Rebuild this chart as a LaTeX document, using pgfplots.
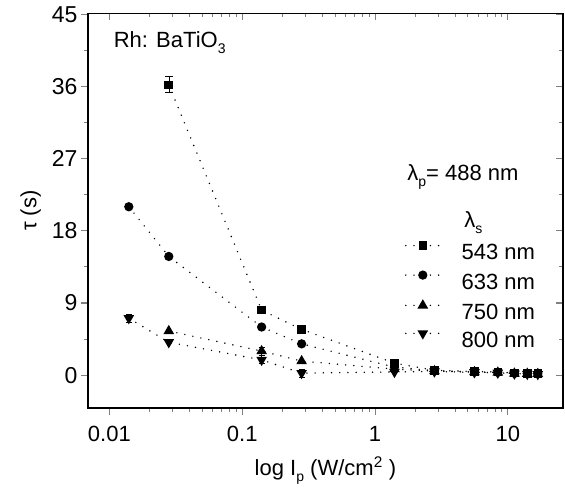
\documentclass[border=0pt]{standalone}
\usepackage{fontspec}
\setmainfont{Liberation Sans}
\usepackage{pgfplots}
\usepackage{pgfplotstable}
\pgfplotsset{compat=1.18}

\pgfplotstableread{
x y
0.028 36.2
0.14 8.1
0.28 5.7
1.4 1.5
2.8 0.6
5.6 0.45
8.4 0.4
11.2 0.25
14 0.22
16.8 0.2
}\dataA
\pgfplotstableread{
x y
0.014 21.0
0.028 14.8
0.14 6.0
0.28 3.9
1.4 1.0
2.8 0.55
5.6 0.4
8.4 0.35
11.2 0.22
14 0.2
16.8 0.18
}\dataB
\pgfplotstableread{
x y
0.028 5.5
0.14 3.0
0.28 1.75
1.4 0.75
2.8 0.5
5.6 0.38
8.4 0.32
11.2 0.2
14 0.18
16.8 0.15
}\dataC
\pgfplotstableread{
x y
0.014 7.1
0.028 4.1
0.14 1.9
0.28 0.25
1.4 0.4
2.8 0.45
5.6 0.35
8.4 0.3
11.2 0.18
14 0.15
16.8 0.12
}\dataD
\pgfplotstableread{
x y e
0.028 36.2 1.0
}\errA
\pgfplotstableread{
x y e
0.14 3.0 0.5
}\errC
\pgfplotstableread{
x y e
0.014 7.1 0.5
0.14 1.9 0.5
0.28 0.25 0.5
}\errD

\newcommand{\bigf}{\fontsize{22bp}{26bp}\selectfont}
\newcommand{\lowsub}[1]{\raisebox{-6bp}{\fontsize{14bp}{14bp}\selectfont #1}}
\tikzset{
  dotline/.style={black, line width=1.6bp, line cap=round, dash pattern=on 0bp off 8.2bp},
}
\begin{document}
\begin{tikzpicture}
\begin{axis}[scale only axis, width=475bp, height=394.5bp,
  xmode=log, xmin=0.0069, xmax=26, ymin=-4.1, ymax=45.1,
  xtick={0.01,0.1,1,10}, ytick={0,9,...,45}, minor ytick={4.5,13.5,...,40.5},
  axis line style={line width=1.2bp}, major tick style={line width=1.1bp}, minor tick style={line width=0.9bp},
  major tick length=7bp, minor tick length=4bp,
  tick pos=left, tick align=outside,
  xticklabels={0.01,0.1,1,10},
  tick label style={font=\bigf},
  xticklabel style={yshift=-8bp},
  yticklabel style={font=\fontsize{23bp}{26bp}\selectfont},
  /pgf/number format/assume math mode=true,
  xlabel={log I\lowsub{p} (W/cm\textsuperscript{2} )},
  xlabel style={yshift=-8bp},
  ylabel={τ (s)},
  ylabel style={yshift=4bp},
  label style={font=\bigf},
  legend style={at={(rel axis cs:0.667,0.421)}, anchor=north west, draw=none, fill=none,
    inner sep=0pt, row sep=11.7bp, column sep=21bp,
    font=\bigf, nodes={inner sep=0pt, font=\bigf, text height=16bp, text depth=0bp}},
  legend cell align=left,
  legend image code/.code={\draw[mark repeat=2,mark phase=2,#1] plot coordinates {(0bp,6bp) (17bp,6bp) (34bp,6bp)};},
]
\addplot[dotline, mark=square*, mark size=3.5bp, mark options={solid, fill=black}] table[x=x,y=y] {\dataA};
\addlegendentry{543 nm}
\addplot[dotline, mark=*, mark size=3.8bp, mark options={solid, fill=black}] table[x=x,y=y] {\dataB};
\addlegendentry{633 nm}
\addplot[dotline, mark=triangle*, mark size=4.6bp, mark options={solid, fill=black}] table[x=x,y=y] {\dataC};
\addlegendentry{750 nm}
\addplot[dotline, mark=triangle*, mark size=4.6bp, mark options={solid, fill=black, rotate=180}] table[x=x,y=y] {\dataD};
\addlegendentry{800 nm}
\addplot[only marks, mark=none, forget plot, black, line width=1bp,
  error bars/.cd, y dir=both, y explicit, error mark options={rotate=90, mark size=4bp, line width=1bp}]
  table[x=x,y=y,y error=e] {\errA};
\addplot[only marks, mark=none, forget plot, black, line width=1bp,
  error bars/.cd, y dir=both, y explicit, error mark options={rotate=90, mark size=3bp, line width=1bp}]
  table[x=x,y=y,y error=e] {\errC};
\addplot[only marks, mark=none, forget plot, black, line width=1bp,
  error bars/.cd, y dir=both, y explicit, error mark options={rotate=90, mark size=3bp, line width=1bp}]
  table[x=x,y=y,y error=e] {\errD};
\node[font=\bigf, anchor=west] at (rel axis cs:0.665,0.586) {λ\lowsub{p}= 488 nm};
\node[font=\bigf, anchor=west] at (rel axis cs:0.785,0.471) {λ\lowsub{s}};
\node[font=\bigf, anchor=west] at (rel axis cs:0.047,0.925) {Rh: BaTiO\lowsub{3}};
\end{axis}
\begin{axis}[scale only axis, width=475bp, height=394.5bp,
  xmode=log, xmin=0.0069, xmax=26, ymin=-4.1, ymax=45.1,
  xtick={0.01,0.1,1,10}, ytick={0,9,...,45}, minor ytick={4.5,13.5,...,40.5},
  axis line style={line width=1.2bp}, major tick style={line width=1.1bp}, minor tick style={line width=0.9bp},
  major tick length=7bp, minor tick length=4bp,
  tick pos=right, tick align=inside, xticklabels={}, yticklabels={}]
\end{axis}
\pgfresetboundingbox
\path (current axis.south west) ++(-88bp,-86bp) coordinate (bl);
\path (current axis.north east) ++(2bp,13.5bp) coordinate (tr);
\path (bl) rectangle (tr);
\end{tikzpicture}
\end{document}
